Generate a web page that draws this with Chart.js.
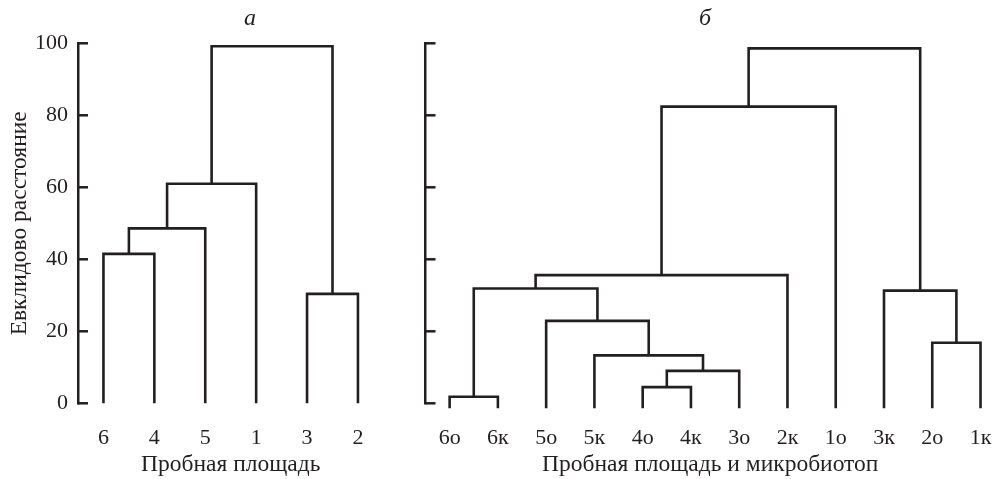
<!DOCTYPE html>
<html lang="ru">
<head>
    <meta charset="UTF-8">
    <title>Евклидово расстояние — дендрограммы</title>
    <script src="https://cdn.jsdelivr.net/npm/chart.js"></script>
    <style>
        body { margin: 0; background: #fff; }
        canvas { position: absolute; top: 0; }
        #chartA { left: 0; }
        #chartB { left: 415px; }
    </style>
</head>
<body>
<canvas id="chartA" width="500" height="479"></canvas>
<canvas id="chartB" width="580" height="479"></canvas>

<script>
    // панель а: пробные площади (листья в порядке дендрограммы)
    const leavesA = ['6', '4', '5', '1', '3', '2'];
    // слияния: индексы листьев 0..n-1, далее кластеры n, n+1, ...
    const mergesA = [[0, 1], [6, 2], [7, 3], [4, 5], [8, 9]];
    const heightsA = [41.5, 48.6, 61.0, 30.4, 99.2];

    // панель б: площадь и микробиотоп
    const leavesB = ['6о', '6к', '5о', '5к', '4о', '4к', '3о', '2к', '1о', '3к', '2о', '1к'];
    const mergesB = [[0, 1], [4, 5], [13, 6], [3, 14], [2, 15], [12, 16], [17, 7], [18, 8], [10, 11], [9, 20], [19, 21]];
    const heightsB = [1.8, 4.5, 9.0, 13.3, 22.9, 31.9, 35.6, 82.4, 16.8, 31.3, 98.6];

    const yTicks = [0, 20, 40, 60, 80, 100];

    const ink = '#231f20';
    const serif = 'Liberation Serif';

    function buildLinks(leaves, merges, heights, base) {
        const xs = leaves.map((_, i) => i);
        const ys = leaves.map(() => base);
        return merges.map(([a, b], k) => {
            const h = heights[k];
            const pts = [
                {x: xs[a], y: ys[a]},
                {x: xs[a], y: h},
                {x: xs[b], y: h},
                {x: xs[b], y: ys[b]}
            ];
            xs.push((xs[a] + xs[b]) / 2);
            ys.push(h);
            return {
                data: pts,
                borderColor: ink,
                borderWidth: 2.6,
                borderJoinStyle: 'miter',
                pointRadius: 0,
                tension: 0,
                fill: false,
                clip: false
            };
        });
    }

    // засечки оси Y направлены внутрь
    const inwardTicks = {
        id: 'inwardTicks',
        afterDraw(chart) {
            const y = chart.scales.y;
            const left = chart.chartArea.left;
            const ctx = chart.ctx;
            ctx.save();
            ctx.strokeStyle = ink;
            ctx.lineWidth = 2.5;
            y.ticks.forEach(t => {
                const py = y.getPixelForValue(t.value);
                ctx.beginPath();
                ctx.moveTo(left, py);
                ctx.lineTo(left + 10, py);
                ctx.stroke();
            });
            ctx.restore();
        }
    };

    function makeOptions(leaves, xMax, yWidth, letter, xTitle, yTitle, rightPad) {
        const scales = {
            x: {
                type: 'linear',
                min: -0.5,
                max: xMax,
                afterBuildTicks: s => { s.ticks = leaves.map((_, i) => ({value: i})); },
                afterFit: s => { s.height = 75.7; },
                // невидимые засечки задают отступ подписей от оси
                grid: {display: false, drawTicks: true, tickLength: 22},
                border: {display: false},
                ticks: {
                    autoSkip: false,
                    maxRotation: 0,
                    padding: 0,
                    color: ink,
                    font: {family: serif, size: 22},
                    callback: v => leaves[v]
                },
                title: {
                    display: true,
                    text: xTitle,
                    color: ink,
                    font: {family: serif, size: 23.5},
                    padding: {top: 0, bottom: 0.5}
                }
            },
            y: {
                min: 0,
                max: 100,
                afterBuildTicks: s => { s.ticks = yTicks.map(v => ({value: v})); },
                afterFit: s => { s.width = yWidth; },
                grid: {display: false, drawTicks: false, lineWidth: 2.5},
                border: {display: true, color: ink, width: 2.5},
                ticks: {
                    display: !!yTitle,
                    padding: 10,
                    color: ink,
                    font: {family: serif, size: 22}
                },
                title: {
                    display: !!yTitle,
                    text: yTitle,
                    color: ink,
                    font: {family: serif, size: 23.5},
                    padding: {top: 6, bottom: 0}
                }
            }
        };
        if (rightPad) {
            // пустая правая ось, чтобы заголовок панели оставался по центру холста
            scales.pad = {
                position: 'right',
                ticks: {display: false},
                grid: {display: false, drawTicks: false},
                border: {display: false},
                afterFit: s => { s.width = rightPad; }
            };
        }
        return {
            responsive: false,
            animation: false,
            layout: {padding: 0},
            plugins: {
                legend: {display: false},
                tooltip: {enabled: false},
                title: {
                    display: true,
                    text: letter,
                    color: ink,
                    font: {family: serif, size: 24, style: 'italic', weight: 'normal'},
                    padding: {top: 4.5, bottom: 10}
                }
            },
            scales: scales
        };
    }

    new Chart(document.getElementById('chartA').getContext('2d'), {
        type: 'line',
        data: {datasets: buildLinks(leavesA, mergesA, heightsA, 0)},
        options: makeOptions(leavesA, 5.5, 78, 'а', 'Пробная площадь', 'Евклидово расстояние', 116.6),
        plugins: [inwardTicks]
    });

    new Chart(document.getElementById('chartB').getContext('2d'), {
        type: 'line',
        data: {datasets: buildLinks(leavesB, mergesB, heightsB, -1.4)},
        options: makeOptions(leavesB, 11.3, 10.5, 'б', 'Пробная площадь и микробиотоп', '', 0),
        plugins: [inwardTicks]
    });
</script>

</body>
</html>
